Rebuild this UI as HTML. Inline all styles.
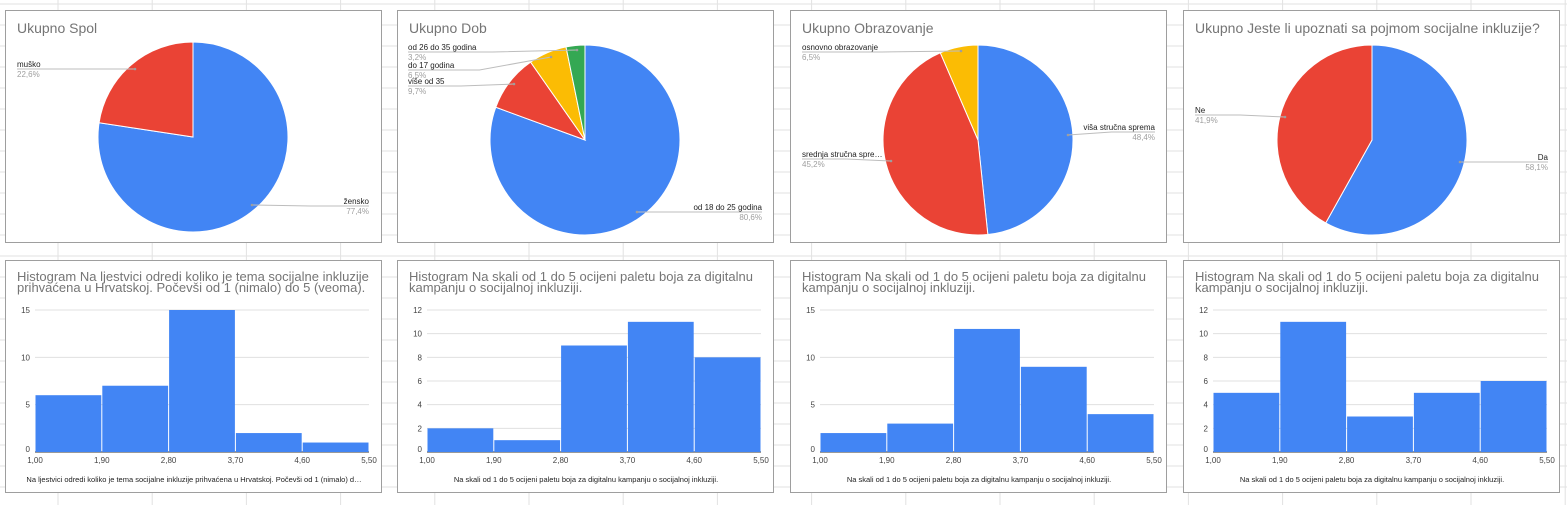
<!DOCTYPE html>
<html><head><meta charset="utf-8">
<style>
body{margin:0;width:1567px;height:505px;overflow:hidden;background:#fff;font-family:"Liberation Sans",sans-serif;}
svg{display:block}
</style></head>
<body>
<svg id="s" width="1567" height="505"></svg>
<script>
// ---- data ----
const pieTitles=["Ukupno Spol","Ukupno Dob","Ukupno Obrazovanje","Ukupno Jeste li upoznati sa pojmom socijalne inkluzije?"];
const pie1Labels=["žensko","muško"];
const pie1Values=[77.4,22.6];
const pie2Labels=["od 18 do 25 godina","više od 35","do 17 godina","od 26 do 35 godina"];
const pie2Values=[80.6,9.7,6.5,3.2];
const pie3Labels=["viša stručna sprema","srednja stručna spre…","osnovno obrazovanje"];
const pie3Values=[48.4,45.2,6.5];
const pie4Labels=["Da","Ne"];
const pie4Values=[58.1,41.9];
const histTitles=[["Histogram Na ljestvici odredi koliko je tema socijalne inkluzije","prihvaćena u Hrvatskoj. Počevši od 1 (nimalo) do 5 (veoma)."],
["Histogram Na skali od 1 do 5 ocijeni paletu boja za digitalnu","kampanju o socijalnoj inkluziji."],
["Histogram Na skali od 1 do 5 ocijeni paletu boja za digitalnu","kampanju o socijalnoj inkluziji."],
["Histogram Na skali od 1 do 5 ocijeni paletu boja za digitalnu","kampanju o socijalnoj inkluziji."]];
const histAxisTitles=["Na ljestvici odredi koliko je tema socijalne inkluzije prihvaćena u Hrvatskoj. Počevši od 1 (nimalo) d…",
"Na skali od 1 do 5 ocijeni paletu boja za digitalnu kampanju o socijalnoj inkluziji.",
"Na skali od 1 do 5 ocijeni paletu boja za digitalnu kampanju o socijalnoj inkluziji.",
"Na skali od 1 do 5 ocijeni paletu boja za digitalnu kampanju o socijalnoj inkluziji."];
const hist1Counts=[6,7,15,2,1];
const hist2Counts=[2,1,9,11,8];
const hist3Counts=[2,3,13,9,4];
const hist4Counts=[5,11,3,5,6];
const hist1Ticks=[0,5,10,15];
const hist2Ticks=[0,2,4,6,8,10,12];
const hist3Ticks=[0,5,10,15];
const hist4Ticks=[0,2,4,6,8,10,12];
const binEdges=["1,00","1,90","2,80","3,70","4,60","5,50"];
</script>
<script>
const s=document.getElementById('s');
const NS="http://www.w3.org/2000/svg";
function mk(tag,attrs,parent){const e=document.createElementNS(NS,tag);for(const k in attrs)e.setAttribute(k,attrs[k]);(parent||s).appendChild(e);return e;}
function txt(str,attrs,parent){const e=mk('text',attrs,parent);e.textContent=str;return e;}
const grid=mk('g',{});


for(let x=58;x<1567;x+=94.2)mk('line',{x1:x,y1:0,x2:x,y2:505,stroke:'#e2e2e2','stroke-width':1},grid);
for(let y=4;y<505;y+=21)mk('line',{x1:0,y1:y,x2:1567,y2:y,stroke:'#e2e2e2','stroke-width':1},grid);
const colors=["#4285f4","#ea4335","#fbbc04","#34a853"];
const lefts=[5,397,790,1183];
const pieLabels=[pie1Labels,pie2Labels,pie3Labels,pie4Labels];
const pieValues=[pie1Values,pie2Values,pie3Values,pie4Values];
const labelLayout=[
 [[369,204,'end',252,205],[17,67,'start',135,69]],
 [[762,210,'end',637,212],[408,84,'start',514,84],[408,68,'start',551,57],[408,50,'start',577,50]],
 [[1155,130,'end',1068,135],[802,157,'start',891,161],[802,50,'start',961,51]],
 [[1548,160,'end',1460,162],[1195,113,'start',1285,117]]
];
const centers=[[193,137],[585,140],[978,140],[1372,140]];
for(let c=0;c<4;c++){
 const g=mk('g',{});
 
 
 const L=lefts[c];
 mk('rect',{x:L+0.5,y:10.5,width:376,height:232,fill:'#fff',stroke:'#9e9e9e'},g);
 const t=txt(pieTitles[c],{x:L+12,y:33,'font-size':14,fill:'#757575'},g);
 
 
 const [cx,cy]=centers[c],r=95;
 const vals=pieValues[c];const tot=vals.reduce((a,b)=>a+b,0);
 let a0=0;
 vals.forEach((v,i)=>{
  const a1=a0+v/tot*2*Math.PI;
  const x0=cx+r*Math.sin(a0),y0=cy-r*Math.cos(a0),x1=cx+r*Math.sin(a1),y1=cy-r*Math.cos(a1);
  const p=mk('path',{d:`M${cx},${cy}L${x0},${y0}A${r},${r} 0 ${a1-a0>Math.PI?1:0} 1 ${x1},${y1}Z`,fill:colors[i],stroke:'#fff','stroke-width':1},g);
  
  
  a0=a1;
  const[tx,ty,anc,dx,dy]=labelLayout[c][i];
  mk('polyline',{points:`${tx},${ty+2} ${(tx+dx)/2},${ty+2} ${dx},${dy}`,fill:'none',stroke:'#bdbdbd','stroke-width':1},g);
  mk('circle',{cx:dx,cy:dy,r:1.3,fill:'#9e9e9e'},g);
  const lt=txt(pieLabels[c][i],{x:tx,y:ty,'font-size':8,fill:'#222','text-anchor':anc},g);
  
  
  const pt=txt(v.toFixed(1).replace('.',',')+'%',{x:tx,y:ty+10,'font-size':8,fill:'#9e9e9e','text-anchor':anc},g);
  
  
 });
}
const histCounts=[hist1Counts,hist2Counts,hist3Counts,hist4Counts];
const histTicks=[hist1Ticks,hist2Ticks,hist3Ticks,hist4Ticks];
for(let c=0;c<4;c++){
 const g=mk('g',{});
 
 
 const L=lefts[c];
 mk('rect',{x:L+0.5,y:260.5,width:376,height:232,fill:'#fff',stroke:'#9e9e9e'},g);
 histTitles[c].forEach((ln,i)=>{
  const t=txt(ln,{x:L+12,y:281+i*11,'font-size':13,fill:'#757575'},g);
  
  
 });
 const ticks=histTicks[c];const maxV=ticks[ticks.length-1];
 const x0=L+30,x1=L+364,yb=452,yt=310;
 const ys=v=>yb-(v/maxV)*(yb-yt);
 const xs=v=>x0+(v/5)*(x1-x0);
 ticks.forEach(tk=>{
  mk('line',{x1:x0,y1:ys(tk),x2:x1,y2:ys(tk),stroke:tk===0?'#333':'#e0e0e0','stroke-width':1},g);
  const tl=txt(String(tk),{x:L+25,y:ys(tk)+(tk===0?0:3),'font-size':8,fill:'#444','text-anchor':'end'},g);
  
  
 });
 histCounts[c].forEach((v,i)=>{
  const b=mk('rect',{x:xs(i)+0.5,y:ys(v),width:xs(1)-xs(0)-1,height:yb-ys(v),fill:'#4285f4'},g);
  
  
 });
 binEdges.forEach((e,i)=>{
  const xl=txt(e,{x:xs(i),y:yb+11,'font-size':8,fill:'#444','text-anchor':'middle'},g);
  
  
 });
 const at=txt(histAxisTitles[c],{x:L+189,y:482,'font-size':7.5,fill:'#222','text-anchor':'middle'},g);
 
 
}
</script>
</body></html>
